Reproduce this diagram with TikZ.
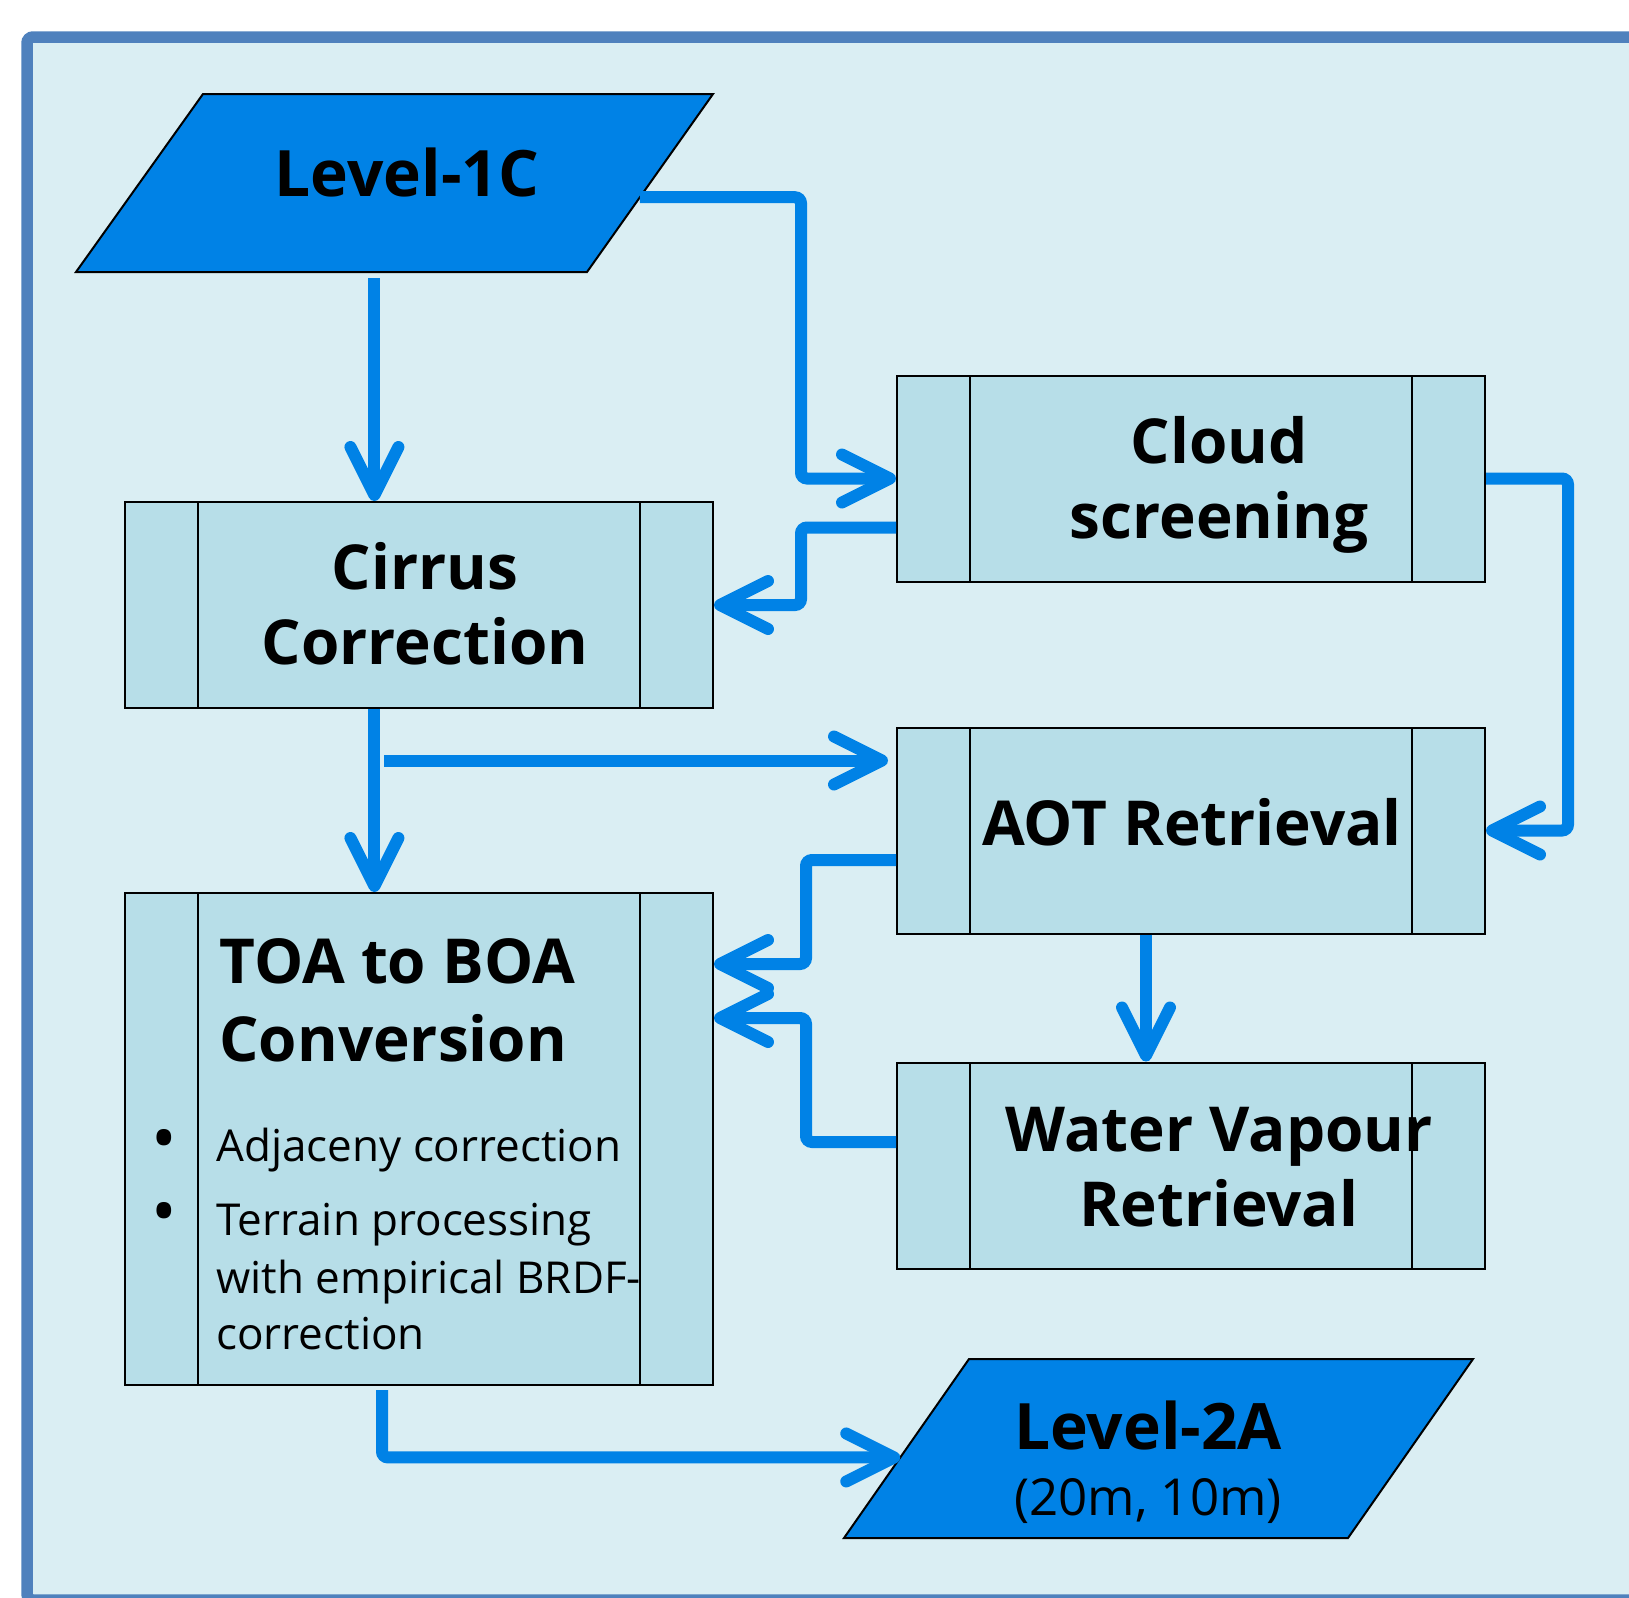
\documentclass[tikz,border=0pt]{standalone}
\usepackage{fontspec}
\setmainfont{Open Sans}
\usepackage{tikz}
\usetikzlibrary{arrows.meta, positioning, calc}
\definecolor{myframe}{RGB}{79,129,189}
\definecolor{mypanel}{RGB}{218,238,243}
\definecolor{mybox}{RGB}{183,222,232}
\definecolor{myblue}{RGB}{0,130,230}
\tikzset{
  procbox/.style={rectangle, draw=black, fill=mybox, line width=1pt,
    minimum width=294pt, minimum height=103pt, inner sep=0pt,
    path picture={
      \draw[line width=1pt] ([xshift=36.5pt]path picture bounding box.north west)
        -- ([xshift=36.5pt]path picture bounding box.south west);
      \draw[line width=1pt] ([xshift=-36.5pt]path picture bounding box.north east)
        -- ([xshift=-36.5pt]path picture bounding box.south east);}},
  datablock/.style={draw=black, fill=myblue, line width=1pt},
  boldtxt/.style={font=\fontsize{31}{37.5}\selectfont\bfseries, align=center, inner sep=0pt},
  plaintxt/.style={font=\fontsize{22}{28.5}\selectfont, inner sep=0pt},
  bullet/.style={font=\fontsize{34}{34}\selectfont, inner sep=0pt},
  flow/.style={-{Straight Barb[length=24pt, width=24pt, round]}, line width=6pt,
    color=myblue, rounded corners=3pt}
}

\begin{document}
\begin{tikzpicture}[x=0.5pt, y=-0.5pt]
  \useasboundingbox (0,0) rectangle (1629,1597);
  \clip (0,0) rectangle (1629,1597);

  % Panel
  \draw[line width=5.75pt, draw=myframe, fill=mypanel, rounded corners=3pt]
    (27,37) rectangle (1680,1600);

  % Input / output data (parallelograms)
  \coordinate (l1ctl) at (203,94);  \coordinate (l1ctr) at (713,94);
  \coordinate (l1cbr) at (587,272); \coordinate (l1cbl) at (76,272);
  \draw[datablock] (l1ctl) -- (l1ctr) -- (l1cbr) -- (l1cbl) -- cycle;
  \node[boldtxt, font=\fontsize{32}{38}\selectfont\bfseries] (l1c) at (407,172.5) {Level-1C};

  \coordinate (l2atl) at (969,1359);  \coordinate (l2atr) at (1473,1359);
  \coordinate (l2abr) at (1348,1538); \coordinate (l2abl) at (844,1538);
  \draw[datablock] (l2atl) -- (l2atr) -- (l2abr) -- (l2abl) -- cycle;
  \node[boldtxt, font=\fontsize{32}{38}\selectfont\bfseries, anchor=base] (l2a) at (1148,1449) {Level-2A};
  \node[plaintxt, font=\fontsize{25.5}{30}\selectfont, anchor=base] (l2asub) at (1148,1515) {(20m, 10m)};

  % Processing steps
  \node[procbox] (cirrus) at (419,605) {};
  \node[boldtxt] (cirrustxt) at (425,604) {Cirrus\\Correction};
  \node[procbox] (cloud) at (1191,478.5) {};
  \node[boldtxt] (cloudtxt) at (1219,485) {Cloud\\screening};
  \node[procbox] (aot) at (1191,830.5) {};
  \node[boldtxt] (aottxt) at (1192,822) {AOT Retrieval};
  \node[procbox] (wv) at (1191,1165.5) {};
  \node[boldtxt] (wvtxt) at (1219,1167) {Water Vapour\\Retrieval};
  \node[procbox, minimum height=246pt] (toa) at (419,1139) {};

  % TOA box contents
  \node[boldtxt, anchor=base west] (toa1) at (219,983) {TOA to BOA};
  \node[boldtxt, anchor=base west] (toa2) at (219,1061) {Conversion};
  \node[bullet] (dot1) at (164,1146) {\textbullet};
  \node[bullet] (dot2) at (164,1219) {\textbullet};
  \node[plaintxt, anchor=base west] (item1) at (216,1161) {Adjaceny correction};
  \node[plaintxt, anchor=base west] (item2a) at (216,1235) {Terrain processing};
  \node[plaintxt, anchor=base west] (item2b) at (216,1293) {with empirical BRDF-};
  \node[plaintxt, anchor=base west] (item2c) at (216,1349) {correction};

  % Paths
  \coordinate (l1cout) at ($(l1cbr)!0.42!(l1ctr)$);
  \coordinate (down1) at ($(l1cbl)!0.584!(l1cbr)+(0,6)$);
  \coordinate (branch) at ($(down1 |- aot.north)+(10,34)$);
  \coordinate (aotdown) at ($(aot.south)+(-45,0)$);
  \coordinate (toaout) at ($(toa.south)+(-37,4)$);
  \coordinate (l2ain) at ($(l2abl)!0.45!(l2atl)$);

  \draw[flow] (l1cout) -| ($(cloud.west)+(-95,0)$) -- (cloud.west);
  \draw[flow] ($(cloud.west)+(0,49)$) -- ++(-95,0) |- (cirrus.east);
  \draw[flow] (down1) -- (down1 |- cirrus.north);
  \draw[flow] (cloud.east) -- ++(82,0) |- (aot.east);
  \draw[flow] (down1 |- cirrus.south) -- (down1 |- toa.north);
  \draw[flow] (branch) -- ($(branch -| aot.west)+(-8,0)$);
  \draw[flow] ($(aot.west)+(0,29.5)$) -- ++(-90,0) |- ($(toa.north east)+(0,72)$);
  \draw[flow] ($(wv.west)+(0,-23.5)$) -- ++(-90,0) |- ($(toa.north east)+(0,126)$);
  \draw[flow] (aotdown) -- (aotdown |- wv.north);
  \draw[flow] (toaout) |- (l2ain);
\end{tikzpicture}
\end{document}
